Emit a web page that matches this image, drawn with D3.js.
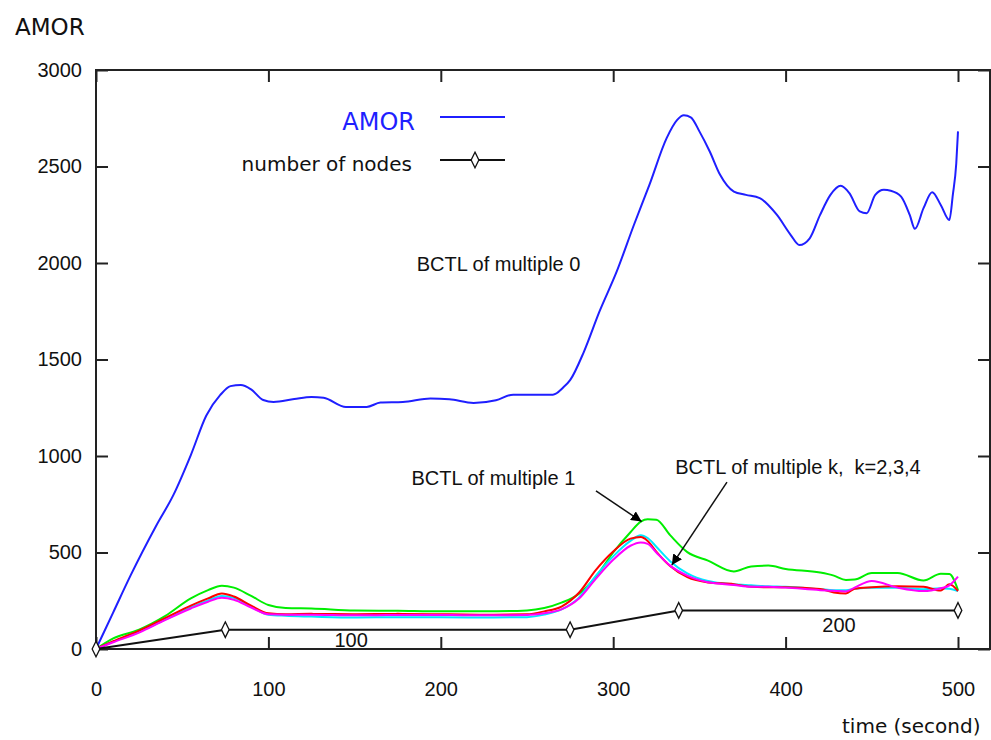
<!DOCTYPE html>
<html>
<head>
<meta charset="utf-8">
<script src="https://cdn.jsdelivr.net/npm/d3@7"></script>
<style>
  body { margin: 0; background: #fff; }
  svg { display: block; }
  .tick text { font-family: "Liberation Sans", Arial, sans-serif; font-size: 20px; fill: #111; }
  .tick line { stroke: #222; stroke-width: 2; }
  .note { font-family: "Liberation Sans", Arial, sans-serif; font-size: 20px; fill: #111; }
  .title { font-family: "DejaVu Sans", sans-serif; fill: #111; }
</style>
</head>
<body>
<div id="chart"></div>
<script>
// AMOR curve (BCTL of multiple 0)
var amorTime = [0, 10, 20, 35, 45, 55, 64, 72, 78, 84, 90, 97, 103, 115, 125, 132, 145, 157, 165, 178,
  194, 205, 219, 232, 242, 265, 271, 275, 283, 292, 302, 312, 321, 331, 337, 341, 345, 350, 356, 362,
  370, 377, 385, 395, 403, 408, 414, 420, 426, 432, 437, 443, 447, 452, 457, 461, 467, 472, 475, 480,
  485, 490, 495, 497, 499, 500];
var amorValues = [0, 190, 380, 640, 800, 1005, 1210, 1315, 1362, 1368, 1345, 1290, 1280, 1295, 1306, 1302, 1254, 1254, 1277, 1280,
  1298, 1294, 1275, 1289, 1318, 1318, 1355, 1393, 1540, 1748, 1955, 2197, 2405, 2647, 2740, 2765, 2755, 2682, 2578, 2457,
  2370, 2353, 2336, 2249, 2145, 2093, 2128, 2249, 2353, 2400, 2362, 2267, 2258, 2353, 2379, 2374, 2344, 2249, 2177, 2284,
  2367, 2301, 2223, 2353, 2517, 2682];

// BCTL multiples 1..4 share one time axis
var bctlTime = [0, 10, 25, 40, 55, 65, 73, 80, 90, 100, 110, 125, 150, 175, 200, 225, 250, 260, 270, 280,
  290, 300, 310, 316, 320, 325, 333, 343, 355, 370, 380, 390, 400, 420, 428, 435, 440, 450, 465, 480,
  490, 495, 500];
var bctl1 = [0, 55, 100, 170, 262, 305, 328, 318, 275, 228, 213, 210, 200, 198, 195, 195, 200, 212, 240, 285,
  375, 500, 605, 660, 672, 670, 590, 502, 458, 402, 428, 432, 415, 396, 380, 358, 360, 394, 394, 355,
  390, 388, 305];
var bctl2 = [0, 40, 95, 160, 225, 262, 288, 272, 225, 185, 180, 182, 180, 182, 180, 178, 180, 195, 220, 290,
  410, 505, 572, 580, 560, 505, 430, 372, 345, 336, 322, 320, 320, 311, 293, 288, 312, 320, 325, 322,
  303, 335, 300];
var bctl3 = [0, 38, 90, 152, 215, 252, 275, 265, 220, 178, 172, 168, 163, 165, 164, 163, 165, 178, 205, 265,
  380, 480, 560, 590, 575, 530, 455, 392, 352, 335, 330, 325, 322, 310, 305, 305, 312, 318, 318, 310,
  315, 312, 300];
var bctl4 = [0, 35, 85, 150, 210, 245, 265, 255, 215, 180, 178, 178, 175, 176, 176, 175, 176, 185, 205, 260,
  365, 462, 535, 552, 545, 500, 432, 380, 346, 332, 322, 322, 318, 305, 302, 298, 318, 352, 318, 300,
  315, 330, 375];

// number of nodes
var nodeTime = [0, 75, 275, 338, 500];
var nodeCount = [0, 100, 100, 200, 200];

var xTicks = [0, 100, 200, 300, 400, 500];
var yTicks = [0, 500, 1000, 1500, 2000, 2500, 3000];

var W = 991, H = 740;
var margin = { left: 96, right: 1, top: 70, bottom: 91 };
var width = W - margin.left - margin.right;
var height = H - margin.top - margin.bottom;

var svg = d3.select("#chart").append("svg")
    .attr("width", W)
    .attr("height", H);

var defs = svg.append("defs");
defs.append("marker")
    .attr("id", "head")
    .attr("viewBox", "0 0 10 10")
    .attr("refX", 10).attr("refY", 5)
    .attr("markerWidth", 7).attr("markerHeight", 7)
    .attr("markerUnits", "strokeWidth")
    .attr("orient", "auto")
    .append("path")
    .attr("d", "M0,0 L10,5 L0,10 z")
    .attr("fill", "#000");

var g = svg.append("g")
    .attr("transform", "translate(" + margin.left + "," + margin.top + ")");

var x = d3.scaleLinear().domain([0, 500]).range([0, 862]);
var y = d3.scaleLinear().domain([0, 3000]).range([height, 0]);

// axes, ticks point inward
g.append("g")
    .attr("transform", "translate(0," + height + ")")
    .call(d3.axisBottom(x).tickValues(xTicks).tickSize(-12).tickPadding(33).tickFormat(d3.format("d")))
    .call(function (s) { s.select(".domain").remove(); });
g.append("g")
    .call(d3.axisTop(x).tickValues(xTicks).tickSize(-12).tickFormat(""))
    .call(function (s) { s.select(".domain").remove(); });
g.append("g")
    .call(d3.axisLeft(y).tickValues(yTicks).tickSize(-12).tickPadding(14).tickFormat(d3.format("d")))
    .call(function (s) { s.select(".domain").remove(); });
g.append("g")
    .attr("transform", "translate(" + width + ",0)")
    .call(d3.axisRight(y).tickValues(yTicks).tickSize(-12).tickFormat(""))
    .call(function (s) { s.select(".domain").remove(); });

g.append("rect")
    .attr("width", width).attr("height", height)
    .attr("fill", "none")
    .attr("stroke", "#222")
    .attr("stroke-width", 2);

var line = d3.line()
    .x(function (d) { return x(d[0]); })
    .y(function (d) { return y(d[1]); })
    .curve(d3.curveMonotoneX);

function pairs(t, v) { return t.map(function (d, i) { return [d, v[i]]; }); }

var bctlSeries = [
  { values: bctl1, color: "#00ee00" },
  { values: bctl3, color: "#00e8ff" },
  { values: bctl2, color: "#ff0000" },
  { values: bctl4, color: "#ff00ff" }
];

bctlSeries.forEach(function (s) {
  g.append("path")
      .datum(pairs(bctlTime, s.values))
      .attr("fill", "none")
      .attr("stroke", s.color)
      .attr("stroke-width", 2)
      .attr("d", line);
});

g.append("path")
    .datum(pairs(amorTime, amorValues))
    .attr("fill", "none")
    .attr("stroke", "#1f1fff")
    .attr("stroke-width", 2)
    .attr("d", line);

var nodes = pairs(nodeTime, nodeCount);
g.append("path")
    .datum(nodes)
    .attr("fill", "none")
    .attr("stroke", "#111")
    .attr("stroke-width", 2)
    .attr("d", d3.line().x(function (d) { return x(d[0]); }).y(function (d) { return y(d[1]); }));

var diamond = d3.symbol().type(d3.symbolDiamond).size(70);
g.selectAll(".node")
    .data(nodes).enter()
    .append("path")
    .attr("class", "node")
    .attr("transform", function (d) { return "translate(" + x(d[0]) + "," + y(d[1]) + ") scale(0.85,1)"; })
    .attr("d", diamond)
    .attr("fill", "#fff")
    .attr("stroke", "#111")
    .attr("stroke-width", 1.5);

// annotations (data units)
var noteText = ["BCTL of multiple 0", "BCTL of multiple 1", "BCTL of multiple k,\u00a0 k=2,3,4"];
var noteTime = [186, 183, 336];
var noteValue = [1959, 850, 909];

g.selectAll(".note")
    .data(noteText).enter()
    .append("text")
    .attr("class", "note")
    .attr("x", function (d, i) { return x(noteTime[i]); })
    .attr("y", function (d, i) { return y(noteValue[i]); })
    .text(function (d) { return d; });

var countText = ["100", "200"];
var countTime = [148, 431];
var countValue = [10, 88];
g.selectAll(".count")
    .data(countText).enter()
    .append("text")
    .attr("class", "note")
    .attr("text-anchor", "middle")
    .attr("x", function (d, i) { return x(countTime[i]); })
    .attr("y", function (d, i) { return y(countValue[i]); })
    .text(function (d) { return d; });

var arrows = [
  { from: [290, 819], to: [316.5, 660] },
  { from: [366, 865], to: [334, 435] }
];
g.selectAll(".arrow")
    .data(arrows).enter()
    .append("line")
    .attr("x1", function (d) { return x(d.from[0]); })
    .attr("y1", function (d) { return y(d.from[1]); })
    .attr("x2", function (d) { return x(d.to[0]); })
    .attr("y2", function (d) { return y(d.to[1]); })
    .attr("stroke", "#111")
    .attr("stroke-width", 1.5)
    .attr("marker-end", "url(#head)");

// legend
var legend = svg.append("g");
legend.append("text").attr("class", "title")
    .attr("x", 415).attr("y", 130)
    .attr("text-anchor", "end")
    .style("font-size", "24px")
    .style("fill", "#1f1fff")
    .text("AMOR");
legend.append("line")
    .attr("x1", 440).attr("x2", 505).attr("y1", 117).attr("y2", 117)
    .attr("stroke", "#1f1fff").attr("stroke-width", 2);
legend.append("text").attr("class", "title")
    .attr("x", 412).attr("y", 171)
    .attr("text-anchor", "end")
    .style("font-size", "20px")
    .text("number of nodes");
legend.append("line")
    .attr("x1", 440).attr("x2", 505).attr("y1", 160).attr("y2", 160)
    .attr("stroke", "#111").attr("stroke-width", 2);
legend.append("path")
    .attr("transform", "translate(475,160) scale(0.85,1)")
    .attr("d", diamond)
    .attr("fill", "#fff").attr("stroke", "#111").attr("stroke-width", 1.5);

// axis titles
svg.append("text").attr("class", "title")
    .attr("x", 15).attr("y", 35)
    .style("font-size", "23px")
    .text("AMOR");
svg.append("text").attr("class", "title")
    .attr("x", 842).attr("y", 733)
    .style("font-size", "20px")
    .text("time (second)");
</script>
</body>
</html>
